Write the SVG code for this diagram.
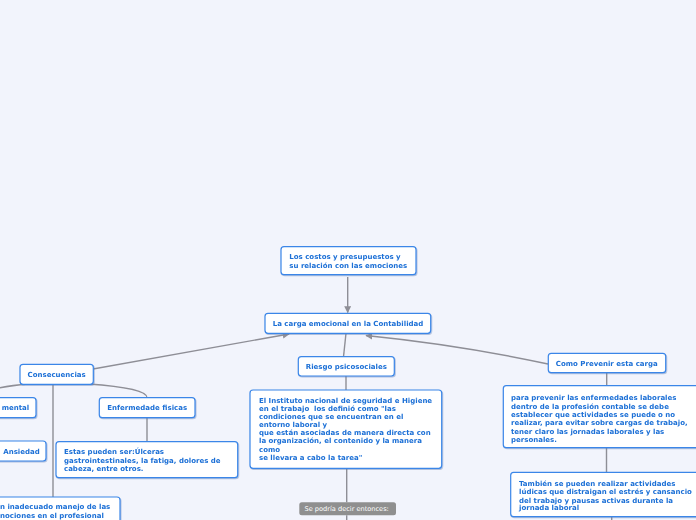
<svg xmlns="http://www.w3.org/2000/svg" width="696" height="520" viewBox="0 0 696 520">
<defs>
<style>
.bg{fill:#f2f4fc}
.box{fill:#ffffff;stroke:#3a86e8;stroke-width:1.2}
.t{font-family:"DejaVu Sans",Verdana,sans-serif;font-weight:bold;font-size:7px;fill:#1b6fd6;white-space:pre}
.c{text-anchor:middle}
.edge{fill:none;stroke:#8e8e96;stroke-width:1.4}
.lbl{fill:#8f8f8f}
.lt{font-family:"DejaVu Sans",Verdana,sans-serif;font-size:6.6px;fill:#ffffff;text-anchor:middle}
</style>
<filter id="sh" x="-10%" y="-20%" width="120%" height="150%">
<feDropShadow dx="0.8" dy="1" stdDeviation="0.7" flood-color="#5a7fb8" flood-opacity="0.45"/>
</filter>
<marker id="arr" viewBox="0 0 10 10" refX="9" refY="5" markerWidth="7" markerHeight="7" orient="auto" markerUnits="userSpaceOnUse">
<path d="M0,0 L10,5 L0,10 z" fill="#8e8e96"/>
</marker>
</defs>
<rect class="bg" x="0" y="0" width="696" height="520"/>

<g id="connectors">
<line class="edge" x1="347.7" y1="277" x2="347.7" y2="312.5" marker-end="url(#arr)"/>
<path class="edge" d="M93,369 L289,334" marker-end="url(#arr)"/>
<path class="edge" d="M548,364 Q460,345 366,335.5" marker-end="url(#arr)"/>
<line class="edge" x1="343.5" y1="356.7" x2="346" y2="333.3"/>
<path class="edge" d="M28,384 Q5,386 -10,390"/>
<path class="edge" d="M88,384 Q147,388 147,397.7"/>
<line class="edge" x1="53" y1="384.3" x2="53" y2="497"/>
<line class="edge" x1="147" y1="417.7" x2="147" y2="441.7"/>
<line class="edge" x1="346" y1="376" x2="346" y2="390"/>
<line class="edge" x1="346.7" y1="468.3" x2="346.7" y2="502.3"/>
<line class="edge" x1="346.7" y1="515.3" x2="346.7" y2="520"/>
<line class="edge" x1="606.7" y1="372.7" x2="606.7" y2="385.7"/>
<line class="edge" x1="606.5" y1="447.7" x2="606.5" y2="472.3"/>
<line class="edge" x1="611.7" y1="516.7" x2="611.7" y2="520"/>
</g>

<g id="n-costos" filter="url(#sh)">
<rect class="box" x="281" y="246.7" width="135" height="28" rx="3"/>
<text class="t" x="289.3" y="258.6">Los costos y presupuestos y</text>
<text class="t" x="289.3" y="267.6">su relación con las emociones</text>
</g>

<g id="n-carga" filter="url(#sh)">
<rect class="box" x="265" y="313.3" width="165.7" height="20" rx="3"/>
<text class="t c" x="348" y="325.8">La carga emocional en la Contabilidad</text>
</g>

<g id="n-consecuencias" filter="url(#sh)">
<rect class="box" x="20" y="364.3" width="73.3" height="20" rx="3"/>
<text class="t c" x="56.7" y="376.8">Consecuencias</text>
</g>

<g id="n-mental" filter="url(#sh)">
<rect class="box" x="-10" y="397.7" width="46" height="20" rx="3"/>
<text class="t" x="1.7" y="410.2">mental</text>
</g>

<g id="n-enfermedade" filter="url(#sh)">
<rect class="box" x="99.3" y="397.7" width="95.7" height="20" rx="3"/>
<text class="t c" x="147.2" y="410.4">Enfermedade fisicas</text>
</g>

<g id="n-ansiedad" filter="url(#sh)">
<rect class="box" x="-10" y="441" width="56" height="20" rx="3"/>
<text class="t" x="3.3" y="454.2">Ansiedad</text>
</g>

<g id="n-estas" filter="url(#sh)">
<rect class="box" x="56" y="441.7" width="181.7" height="36" rx="3"/>
<text class="t" x="64" y="454.2">Estas pueden ser:Úlceras</text>
<text class="t" x="64" y="462.5">gastrointestinales, la fatiga, dolores de</text>
<text class="t" x="64" y="471.2">cabeza, entre otros.</text>
</g>

<g id="n-inadecuado" filter="url(#sh)">
<rect class="box" x="-10" y="497" width="130" height="30" rx="3"/>
<text class="t" x="0" y="509.2">n inadecuado manejo de las</text>
<text class="t" x="0" y="518.2">nociones en el profesional</text>
</g>

<g id="n-riesgo" filter="url(#sh)">
<rect class="box" x="298.3" y="356.7" width="96" height="19.3" rx="3"/>
<text class="t c" x="346.3" y="369.2">Riesgo psicosociales</text>
</g>

<g id="n-instituto" filter="url(#sh)">
<rect class="box" x="250" y="390" width="191.7" height="78.3" rx="3"/>
<text class="t" x="259" y="402.5">El Instituto nacional de seguridad e Higiene</text>
<text class="t" x="259" y="410.8">en el trabajo&#160; los definió como "las</text>
<text class="t" x="259" y="418.8">condiciones que se encuentran en el</text>
<text class="t" x="259" y="426.8">entorno laboral y</text>
<text class="t" x="259" y="435.2">que están asociadas de manera directa con</text>
<text class="t" x="259" y="443.3">la organización, el contenido y la manera</text>
<text class="t" x="259" y="451.6">como</text>
<text class="t" x="259" y="460.2">se llevara a cabo la tarea"</text>
</g>

<g id="n-sepodria">
<rect class="lbl" x="299.3" y="502.3" width="96.7" height="13" rx="2.5"/>
<text class="lt" x="346.7" y="511.2">Se podría decir entonces:</text>
</g>

<g id="n-prevenir" filter="url(#sh)">
<rect class="box" x="548.3" y="353.3" width="117.4" height="19.4" rx="3"/>
<text class="t c" x="606.8" y="365.8">Como Prevenir esta carga</text>
</g>

<g id="n-para" filter="url(#sh)">
<rect class="box" x="503.3" y="385.7" width="200" height="62" rx="3"/>
<text class="t" x="511" y="399.8">para prevenir las enfermedades laborales</text>
<text class="t" x="511" y="408.5">dentro de la profesión contable se debe</text>
<text class="t" x="511" y="416.8">establecer que actividades se puede o no</text>
<text class="t" x="511" y="425.2">realizar, para evitar sobre cargas de trabajo,</text>
<text class="t" x="511" y="433.5">tener claro las jornadas laborales y las</text>
<text class="t" x="511" y="441.5">personales.</text>
</g>

<g id="n-tambien" filter="url(#sh)">
<rect class="box" x="510.7" y="472.3" width="192" height="44.4" rx="3"/>
<text class="t" x="519" y="485.8">También se pueden realizar actividades</text>
<text class="t" x="519" y="494.2">lúdicas que distraigan el estrés y cansancio</text>
<text class="t" x="519" y="502.5">del trabajo y pausas activas durante la</text>
<text class="t" x="519" y="510.2">jornada laboral</text>
</g>
</svg>
